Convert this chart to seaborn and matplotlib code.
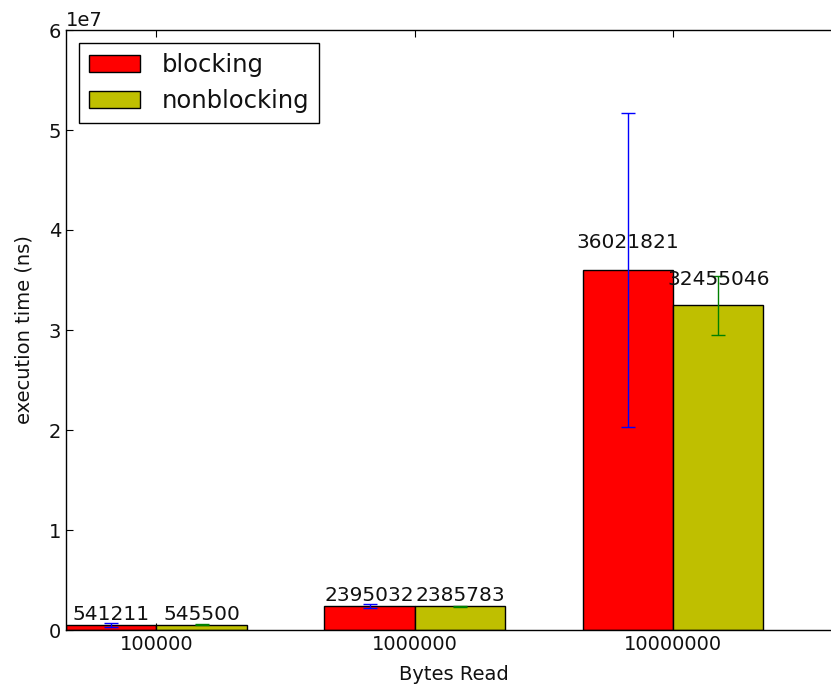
import matplotlib
matplotlib.use('Agg')
import matplotlib.pyplot as plt
import numpy as np
import pandas as pd
import seaborn as sns
from matplotlib.patches import Patch

bytes_read = ['100000', '1000000', '10000000']
modes = ['blocking', 'nonblocking']
blocking_ns = [541211, 2395032, 36021821]
nonblocking_ns = [545500, 2385783, 32455046]
blocking_err = [200000, 200000, 15700000]
nonblocking_err = [50000, 50000, 2950000]

bar_colors = {'blocking': '#ff0000', 'nonblocking': '#bfbf00'}
err_colors = {'blocking': '#0000ff', 'nonblocking': '#008000'}

df = pd.DataFrame({
    'Bytes Read': bytes_read * 2,
    'mode': ['blocking'] * 3 + ['nonblocking'] * 3,
    'time': blocking_ns + nonblocking_ns,
})
errors = {'blocking': blocking_err, 'nonblocking': nonblocking_err}

sns.set_theme(style='ticks')
plt.rcParams['font.family'] = ['DejaVu Sans']
plt.rcParams['xtick.direction'] = 'in'
plt.rcParams['ytick.direction'] = 'in'
plt.rcParams['xtick.top'] = True
plt.rcParams['ytick.right'] = True
plt.rcParams['text.color'] = '#111111'
plt.rcParams['axes.labelcolor'] = '#111111'

fig = plt.figure(figsize=(8.31, 6.87), dpi=100)
ax = fig.add_axes([66 / 831, 57 / 687, 775 / 831, 600 / 687])

sns.barplot(data=df, x='Bytes Read', y='time', hue='mode', order=bytes_read,
            hue_order=modes, palette=bar_colors, saturation=1, width=0.7,
            errorbar=None, edgecolor='black', linewidth=1, legend=False, ax=ax)

for mode, container in zip(modes, ax.containers):
    xs = [p.get_x() + p.get_width() / 2 for p in container.patches]
    hs = [p.get_height() for p in container.patches]
    ax.errorbar(xs, hs, yerr=errors[mode], fmt='none', ecolor=err_colors[mode],
                elinewidth=1, capsize=5, capthick=1)
    for x, h in zip(xs, hs):
        ax.text(x, 1.05 * h, '%d' % int(h), ha='center', va='bottom',
                fontsize=14.5, color='#111111')

ax.set_xlim(-0.35, 2.65)
ax.set_ylim(0, 6e7)
ax.set_yticks(np.arange(0, 6.1e7, 1e7))
ax.ticklabel_format(axis='y', style='sci', scilimits=(0, 0))
ax.yaxis.get_offset_text().set_fontsize(14)
ax.yaxis.get_offset_text().set_color('#111111')
ax.tick_params(labelsize=14, length=5, width=0.8, colors='black', labelcolor='#111111')
ax.set_xlabel('Bytes Read', fontsize=14, labelpad=8)
ax.set_ylabel('execution time (ns)', fontsize=14, labelpad=11)
for s in ax.spines.values():
    s.set_color('black')
    s.set_linewidth(1)

handles = [Patch(facecolor=bar_colors[m], edgecolor='black', label=m) for m in modes]
leg = ax.legend(handles=handles, loc='upper left', fontsize=17.5, fancybox=False,
                frameon=True, edgecolor='black', framealpha=1,
                handlelength=2.1, handletextpad=0.9, borderaxespad=0.55)
leg.get_frame().set_linewidth(1)

fig.savefig('out.png', dpi=100)
